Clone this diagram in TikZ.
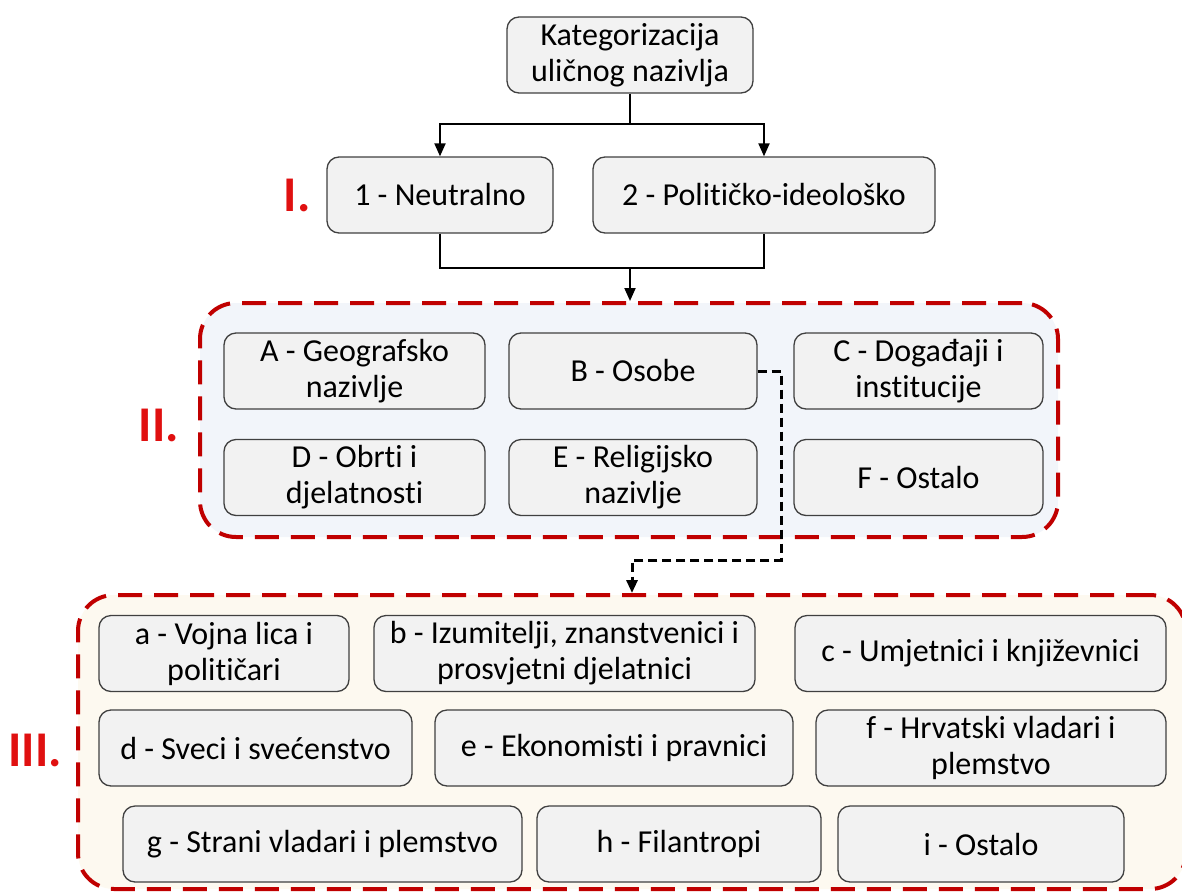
\documentclass[tikz,border=0pt]{standalone}
\usepackage{fontspec}
\setmainfont[Ligatures=NoCommon]{Carlito}
\usetikzlibrary{positioning,arrows.meta}
\definecolor{boxfill}{RGB}{242,242,242}
\definecolor{boxline}{RGB}{64,64,64}
\definecolor{panelred}{RGB}{192,0,0}
\definecolor{levelred}{RGB}{224,16,16}
\definecolor{blueback}{RGB}{242,245,250}
\definecolor{creamback}{RGB}{253,249,240}
\tikzstyle{box} = [draw=boxline, fill=boxfill, rounded corners=12pt, line width=1.3pt, align=center, inner sep=0pt, minimum height=76pt, font=\fontsize{32}{36}\selectfont]
\tikzstyle{panel} = [draw=panelred, line width=4pt, dash pattern=on 24pt off 12pt, rounded corners=36pt, inner sep=0pt]
\tikzstyle{link} = [-{Triangle[length=13pt,width=11pt]}, line width=2pt]
\tikzstyle{dlink} = [link, dash pattern=on 9pt off 5pt, line width=3pt]
\tikzstyle{level} = [text=levelred, font=\fontsize{50}{50}\selectfont\bfseries]

\begin{document}
\begin{tikzpicture}[x=1pt, y=-1pt]
    \useasboundingbox (0,0) rectangle (1182,891);
    % panels
    \node[panel, fill=blueback, minimum width=858pt, minimum height=234pt] (grpII) at (629,420) {};
    \node[panel, fill=creamback, minimum width=1108pt, minimum height=294pt] (grpIII) at (632,742) {};

    % level I
    \node[box, minimum width=246pt] (root) at (630,55) {Kategorizacija\\uličnog nazivlja};
    \node[box, minimum width=226pt] (neutral) at (440,195) {1 - Neutralno};
    \node[box, minimum width=342pt] (polit) at (764,195) {2 - Političko-ideološko};
    \node[level] (lvlI) at (297,195) {I.};

    % level II
    \node[box, minimum width=261pt] (geo) at (354.5,371) {A - Geografsko\\nazivlje};
    \node[box, minimum width=248pt] (osobe) at (633,371) {B - Osobe};
    \node[box, minimum width=249pt] (dog) at (918.5,371) {C - Događaji i\\institucije};
    \node[box, minimum width=261pt] (obrti) at (354.5,477.5) {D - Obrti i\\djelatnosti};
    \node[box, minimum width=248pt] (relig) at (633,477.5) {E - Religijsko\\nazivlje};
    \node[box, minimum width=249pt] (ostaloII) at (918.5,477.5) {F - Ostalo};
    \node[level] (lvlII) at (159,425) {II.};

    % level III
    \node[box, minimum width=250pt] (vojna) at (224,653.5) {a - Vojna lica i\\političari};
    \node[box, minimum width=381pt] (izum) at (564.5,653.5) {b - Izumitelji, znanstvenici i\\prosvjetni djelatnici};
    \node[box, minimum width=371pt] (umj) at (980.5,653.5) {c - Umjetnici i književnici};
    \node[box, minimum width=313pt] (sveci) at (255.5,748) {d - Sveci i svećenstvo};
    \node[box, minimum width=358pt] (ekon) at (614,748) {e - Ekonomisti i pravnici};
    \node[box, minimum width=350pt] (hrv) at (991,748) {f - Hrvatski vladari i\\plemstvo};
    \node[box, minimum width=399pt] (strani) at (322.5,844) {g - Strani vladari i plemstvo};
    \node[box, minimum width=284pt] (filan) at (679,844) {h - Filantropi};
    \node[box, minimum width=286pt] (ostaloIII) at (981,844) {i - Ostalo};
    \node[level] (lvlIII) at (35,750) {III.};

    % connectors
    \coordinate (fork) at (630,124);
    \coordinate (join) at (630,268);
    \coordinate (bend) at (781,560);
    \draw[line width=2pt] (root.south) -- (fork);
    \draw[link] (fork) -| (neutral.north);
    \draw[link] (fork) -| (polit.north);
    \draw[line width=2pt] (neutral.south) |- (join) -| (polit.south);
    \draw[link] (join) -- (join |- grpII.north);
    \draw[dlink] (osobe.east) -| (bend) -| (grpIII.north);
\end{tikzpicture}
\end{document}
